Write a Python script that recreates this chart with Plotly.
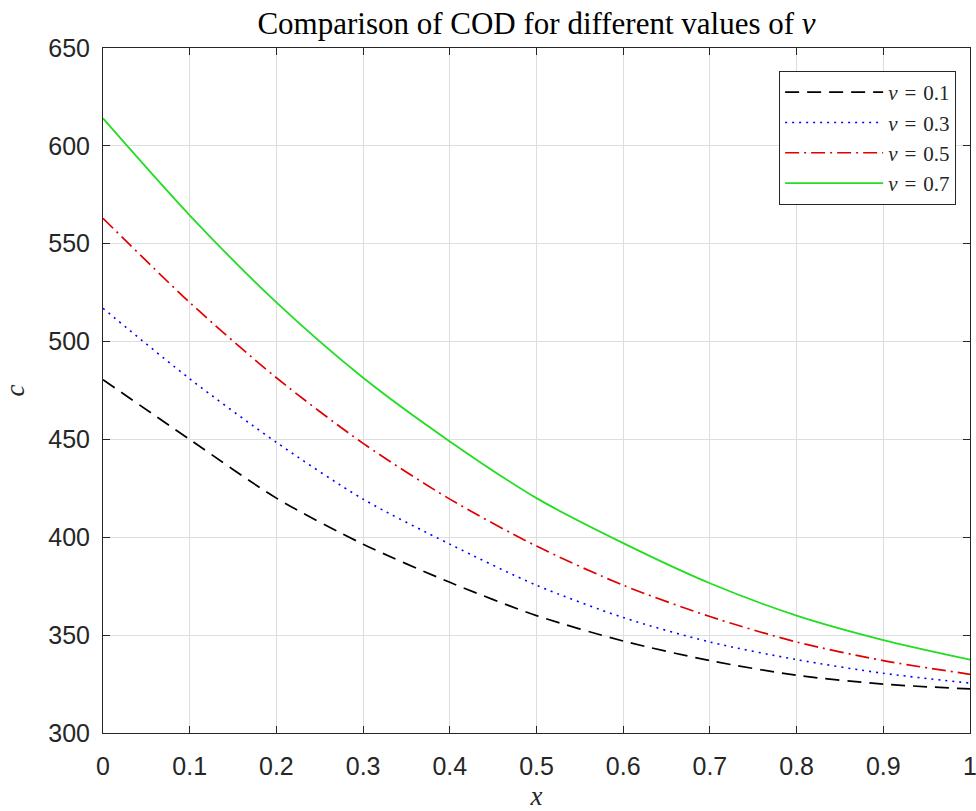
import plotly.graph_objects as go

x_vals = [0, 0.1, 0.2, 0.3, 0.4, 0.5, 0.6, 0.7, 0.8, 0.9, 1.0]
c_v01 = [480.5, 450, 420, 396.5, 377, 360, 347, 337, 329.5, 325, 322.5]
c_v03 = [517, 481, 448.5, 419.5, 396.5, 375.5, 359, 346.5, 337.5, 330.5, 325.5]
c_v05 = [563, 520, 481.5, 448, 419.5, 395.5, 375.5, 359.5, 346.5, 337, 330]
c_v07 = [614, 564.5, 520, 481.5, 449, 420, 397, 376.5, 360, 347.5, 337.5]

SP = "\u2004"
series_names = [f"<i>v</i>{SP}={SP}0.1", f"<i>v</i>{SP}={SP}0.3",
                f"<i>v</i>{SP}={SP}0.5", f"<i>v</i>{SP}={SP}0.7"]
series_vals = [c_v01, c_v03, c_v05, c_v07]
series_colors = ["#000000", "#0000ff", "#e00000", "#22dd22"]
series_dash = ["14px,8px", "2px,5px", "14px,5px,2px,5px", "solid"]
series_width = [1.7, 1.6, 1.7, 1.8]

x_ticks = [0, 0.1, 0.2, 0.3, 0.4, 0.5, 0.6, 0.7, 0.8, 0.9, 1]
x_ticklabels = ["0", "0.1", "0.2", "0.3", "0.4", "0.5", "0.6", "0.7", "0.8", "0.9", "1"]
y_ticks = [300, 350, 400, 450, 500, 550, 600, 650]

fig = go.Figure()
for name, vals, col, dsh, w in zip(series_names, series_vals, series_colors, series_dash, series_width):
    fig.add_trace(go.Scatter(x=x_vals, y=vals, mode="lines", name=name,
                             line=dict(color=col, dash=dsh, width=w, shape="spline", smoothing=0.8)))

axis_common = dict(showline=True, linecolor="#262626", linewidth=1, mirror="ticks",
                   ticks="inside", ticklen=7, tickcolor="#262626", automargin=False,
                   ticklabeloverflow="allow",
                   showgrid=True, gridcolor="#dedede", gridwidth=1, zeroline=False,
                   tickfont=dict(family="Liberation Sans, Arial", size=25, color="#262626"))

fig.update_layout(
    width=976, height=811,
    margin=dict(l=103, r=6, t=48, b=78),
    paper_bgcolor="white", plot_bgcolor="white",
    title=dict(text="Comparison of COD for different values of <i>v</i>",
               font=dict(family="Liberation Serif, Times New Roman", size=31, color="#000000"),
               x=0.5, xref="paper", xanchor="center", y=1 - 23 / 811, yref="container", yanchor="middle"),
    xaxis=dict(range=[0, 1], tickvals=x_ticks, ticktext=x_ticklabels, ticklabelstandoff=11,
               title=dict(text="<i>x</i>", font=dict(family="Liberation Serif", size=27, color="#262626"), standoff=12),
               **axis_common),
    yaxis=dict(range=[300, 650], tickvals=y_ticks, ticklabelstandoff=7,
               title=dict(text="<i>c</i>", font=dict(family="Liberation Serif", size=27, color="#262626"), standoff=16),
               **axis_common),
    legend=dict(x=0.984, y=0.9664, xanchor="right", yanchor="top",
                bgcolor="white", bordercolor="#262626", borderwidth=1,
                font=dict(family="Liberation Serif", size=21, color="#262626"),
                tracegroupgap=0, itemwidth=98),
    showlegend=True,
)

fig.write_html("out.html")
